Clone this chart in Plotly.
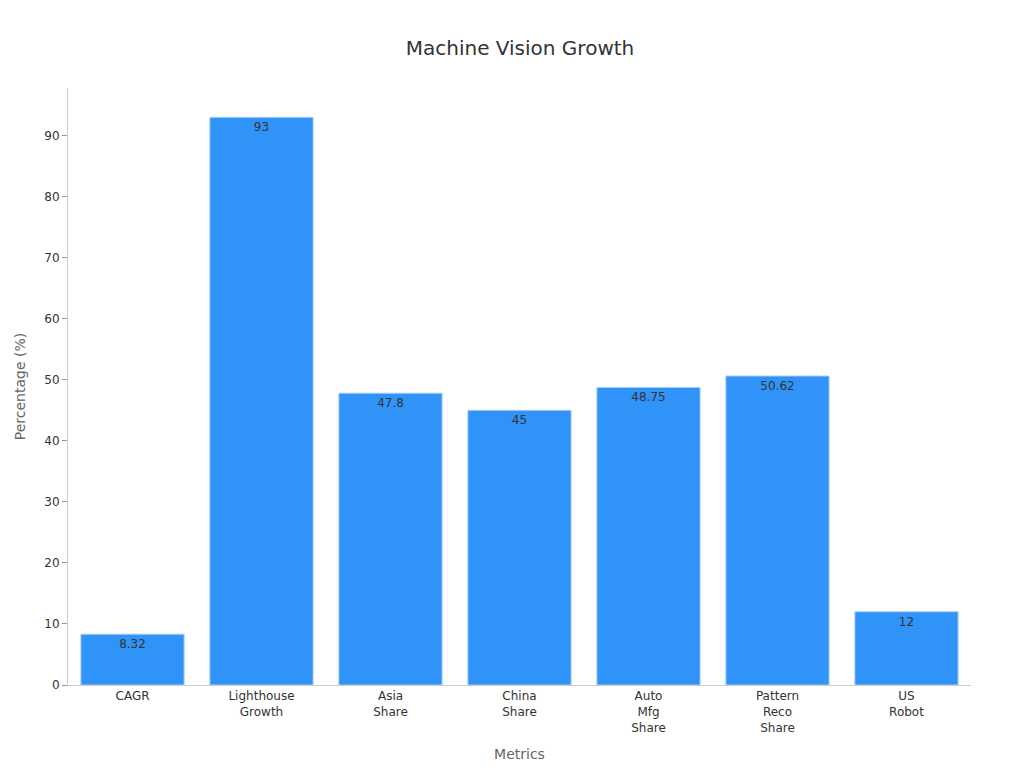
import plotly.graph_objects as go

categories = ["CAGR", "Lighthouse<br>Growth", "Asia<br>Share", "China<br>Share",
              "Auto<br>Mfg<br>Share", "Pattern<br>Reco<br>Share", "US<br>Robot"]
values = [8.32, 93, 47.8, 45, 48.75, 50.62, 12]
labels = ["8.32", "93", "47.8", "45", "48.75", "50.62", "12"]

fig = go.Figure(go.Bar(
    x=categories, y=values, text=labels, textposition="inside",
    insidetextanchor="end", textangle=0,
    textfont=dict(color="#333333", size=12),
    marker=dict(color="#2f93f8", line=dict(color="#a9cdf5", width=1)),
    width=0.8,
))

fig.update_layout(
    width=1024, height=768,
    margin=dict(l=60, r=61, t=80, b=91),
    paper_bgcolor="white", plot_bgcolor="white",
    font=dict(family="DejaVu Sans", color="#333333", size=12),
    title=dict(text="Machine Vision Growth", x=0.5, y=0.957, xanchor="center",
               font=dict(size=20, color="#333333")),
    showlegend=False,
)
fig.update_xaxes(title=dict(text="Metrics", font=dict(size=14, color="#666666")),
                 showline=True, linecolor="#cccccc", ticks="", tickfont=dict(size=12))
fig.update_yaxes(title=dict(text="Percentage (%)", font=dict(size=14, color="#666666")),
                 range=[0, 97.8], dtick=10, showgrid=False, showline=True,
                 linecolor="#cccccc", ticks="outside", ticklen=5, tickcolor="#999999",
                 zeroline=False)

fig.write_html("out.html")
